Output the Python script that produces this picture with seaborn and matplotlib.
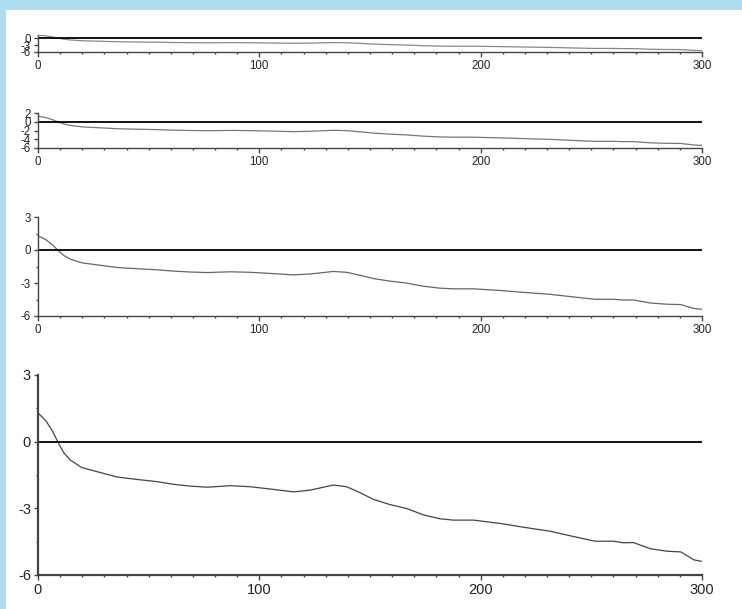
import matplotlib
matplotlib.use('Agg')
import matplotlib.pyplot as plt
from matplotlib.patches import Rectangle
from matplotlib.ticker import MultipleLocator
import seaborn as sns
import pandas as pd

# curve (same series drawn in all four panels)
x_vals = [0, 3.5, 6.4, 8.9, 11.6, 14.6, 19.9, 26.7, 35.7, 44.7, 53.8, 61.3, 68.8,
          76.4, 87, 96, 100.5, 106.5, 115.5, 123, 133.5, 139.5, 145.6, 151.6, 159,
          166.6, 174, 181.6, 187.7, 196.7, 208.8, 219.3, 231.4, 242, 251.7, 260,
          264.5, 269, 276.7, 284.2, 290.4, 296.4, 300]
y_vals = [1.29, 0.95, 0.5, 0, -0.49, -0.83, -1.17, -1.35, -1.59, -1.70, -1.80, -1.92,
          -2.0, -2.05, -1.98, -2.03, -2.08, -2.15, -2.26, -2.18, -1.95, -2.03, -2.3,
          -2.6, -2.83, -3.01, -3.29, -3.47, -3.53, -3.53, -3.68, -3.85, -4.03, -4.27,
          -4.48, -4.48, -4.55, -4.54, -4.82, -4.93, -4.96, -5.32, -5.39]

x_ticks = [0, 100, 200, 300]
# per panel: y ticks, y limit top
panel_yticks = [[0, -3, -6], [2, 0, -2, -4, -6], [3, 0, -3, -6], [3, 0, -3, -6]]
panel_ytop = [1.3, 2, 3, 3]

df = pd.DataFrame({'x': x_vals, 'y': y_vals})

sns.set_style('ticks')
plt.rcParams['font.family'] = ['Liberation Sans', 'DejaVu Sans']
plt.rcParams['axes.unicode_minus'] = False

W, H = 742, 609
fig = plt.figure(figsize=(W / 100, H / 100), dpi=100)
fig.patch.set_facecolor('#aedcf0')
fig.add_artist(Rectangle((6 / W, 0), 1 - 6 / W, 1 - 10 / H, transform=fig.transFigure,
                         facecolor='white', edgecolor='none', zorder=0))

# pixel boxes (top, bottom) of each panel
boxes = [(35, 52), (113, 148), (217, 316), (375, 575)]
fsizes = [8.3, 8.3, 8.3, 10.5]
spine_w = [1.0, 1.0, 1.0, 1.6]
curve_c = ['#888888', '#777777', '#666666', '#444444']

for i, (top, bot) in enumerate(boxes):
    ax = fig.add_axes([38 / W, 1 - bot / H, 664 / W, (bot - top) / H])
    ax.set_facecolor('none')
    sns.lineplot(data=df, x='x', y='y', ax=ax, color=curve_c[i], linewidth=0.9)
    ax.axhline(0, color='black', linewidth=1.3)
    ax.set_xlim(0, 300)
    ax.set_ylim(-6, panel_ytop[i])
    ax.set_xticks(x_ticks)
    ax.xaxis.set_minor_locator(MultipleLocator(10))
    ax.set_yticks(panel_yticks[i])
    if i >= 2:
        ax.yaxis.set_minor_locator(MultipleLocator(1.5))
    ax.set_xlabel('')
    ax.set_ylabel('')
    for s in ['top', 'right']:
        ax.spines[s].set_visible(False)
    for s in ['left', 'bottom']:
        ax.spines[s].set_color('#444444')
        ax.spines[s].set_linewidth(spine_w[i])
    ax.tick_params(axis='x', which='major', length=3.6, width=1, color='#444444',
                   labelsize=fsizes[i], pad=2, labelcolor='#222222')
    ax.tick_params(axis='x', which='minor', length=1.5, width=1, color='#444444')
    ax.tick_params(axis='y', which='major', length=3, width=1, color='#444444',
                   labelsize=fsizes[i], pad=2, labelcolor='#222222')
    ax.tick_params(axis='y', which='minor', length=1.5, width=1, color='#444444')

fig.savefig('out.png', dpi=100)
